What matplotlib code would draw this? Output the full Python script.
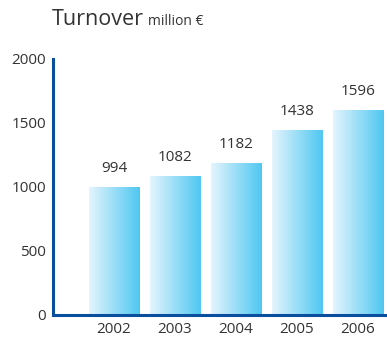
import matplotlib.pyplot as plt
import numpy as np
from matplotlib.colors import LinearSegmentedColormap

years = ['2002', '2003', '2004', '2005', '2006']
turnover = [994, 1082, 1182, 1438, 1596]
yticks = [0, 500, 1000, 1500, 2000]

plt.rcParams['font.family'] = ['Open Sans', 'DejaVu Sans']

fig = plt.figure(figsize=(3.87, 3.42), dpi=100)
ax = fig.add_axes([53 / 387, 27 / 342, 334 / 387, 256 / 342])

cmap = LinearSegmentedColormap.from_list('bar', ['#e4f5fd', '#4ec7f1'])
grad = np.linspace(0, 1, 256).reshape(1, -1)
w = 0.82
x = np.arange(len(years))
for xi, v in zip(x, turnover):
    ax.imshow(grad, cmap=cmap, aspect='auto', extent=(xi - w / 2, xi + w / 2, 0, v),
              interpolation='bicubic', zorder=1)
    # valor encima de la barra
    ax.annotate(str(v), (xi, v), xytext=(0, 11.5), textcoords='offset points',
                ha='center', va='baseline', fontsize=11, color='#333333')

ax.set_xlim(-1.0, 4.475)
ax.set_ylim(0, 2000)
ax.set_xticks(x)
ax.set_xticklabels(years)
ax.set_yticks(yticks)
ax.tick_params(length=0, labelsize=11, colors='#333333')
ax.tick_params(axis='x', pad=5)
ax.tick_params(axis='y', pad=5)

for s in ['top', 'right']:
    ax.spines[s].set_visible(False)
for s in ['left', 'bottom']:
    ax.spines[s].set_color('#0a4f9e')
    ax.spines[s].set_linewidth(2.2)
ax.set_facecolor('none')

fig.text(52 / 387, 1 - 25 / 342, 'Turnover', fontsize=15.5, color='#333333', va='baseline')
fig.text(148 / 387, 1 - 25 / 342, 'million €', fontsize=10, color='#333333', va='baseline')

plt.savefig('out.png', dpi=100)
